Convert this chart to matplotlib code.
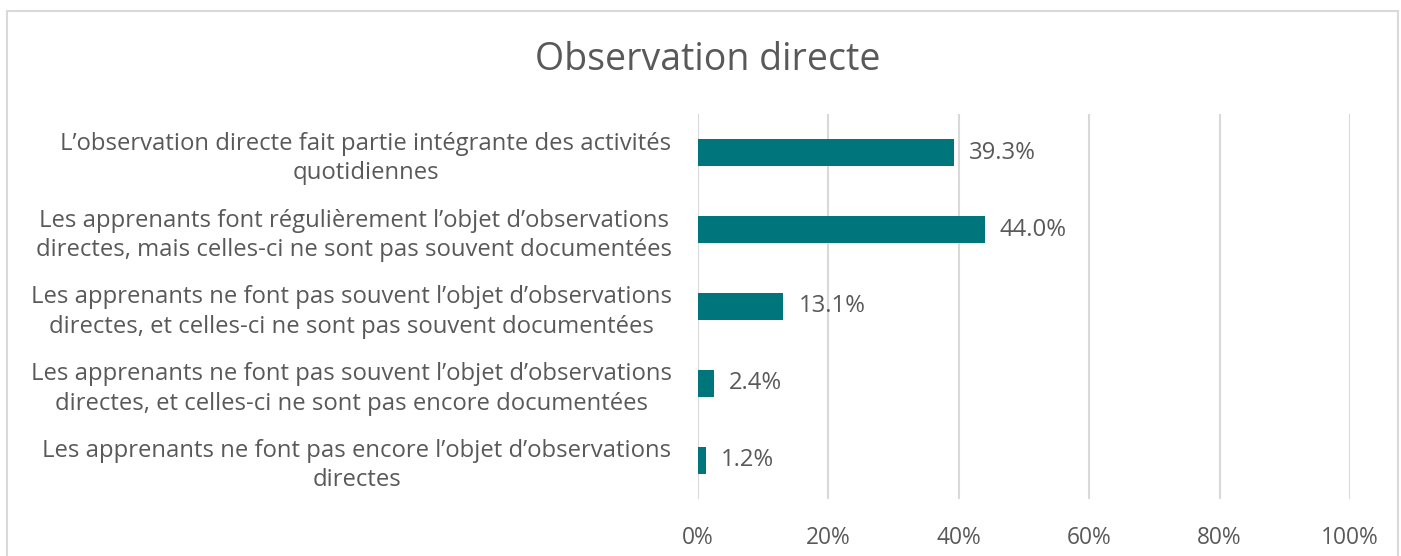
import matplotlib.pyplot as plt
from matplotlib.patches import Rectangle

plt.rcParams['font.family'] = ['Open Sans', 'DejaVu Sans']

categories = [
    "L\u2019observation directe fait partie intégrante des activités\nquotidiennes",
    "Les apprenants font régulièrement l\u2019objet d\u2019observations\ndirectes, mais celles-ci ne sont pas souvent documentées",
    "Les apprenants ne font pas souvent l\u2019objet d\u2019observations\ndirectes, et celles-ci ne sont pas souvent documentées",
    "Les apprenants ne font pas souvent l\u2019objet d\u2019observations\ndirectes, et celles-ci ne sont pas encore documentées",
    "Les apprenants ne font pas encore l\u2019objet d\u2019observations\ndirectes",
]
values = [39.3, 44.0, 13.1, 2.4, 1.2]
ticks = [0, 20, 40, 60, 80, 100]

text_color = '#595959'
bar_color = '#00757B'

fig = plt.figure(figsize=(14.01, 5.56), dpi=100)
fig.patches.append(Rectangle((7 / 1401, -0.05), 1391 / 1401, 1.05 - 11 / 556,
                             transform=fig.transFigure, fill=False,
                             edgecolor='#D9D9D9', linewidth=1.5))

ax = fig.add_axes([698 / 1401, 1 - 498.5 / 556, 652 / 1401, 384 / 556])
y = range(len(categories))
ax.barh(y, values, height=0.35, color=bar_color, zorder=3)
ax.set_ylim(len(categories) - 0.5, -0.5)
ax.set_xlim(0, 100)

for yi, v in zip(y, values):
    ax.text(v + 2.3, yi, f"{v:.1f}%", va='center', ha='left',
            fontsize=17.2, color=text_color)

ax.set_xticks(ticks)
ax.set_xticklabels([f"{t}%" for t in ticks])
ax.set_yticks(list(y))
ax.set_yticklabels(categories, multialignment='center', linespacing=1.3)
ax.tick_params(axis='y', length=0, pad=19, labelsize=17.2, labelcolor=text_color)
ax.tick_params(axis='x', length=0, pad=20, labelsize=16.4, labelcolor=text_color)
ax.grid(axis='x', color='#D9D9D9', linewidth=1.5, zorder=0)
for s in ax.spines.values():
    s.set_visible(False)

fig.text(708 / 1401, 1 - 60 / 556, "Observation directe", ha='center', va='center',
         fontsize=27, color=text_color)

fig.savefig('out.png', dpi=100)
